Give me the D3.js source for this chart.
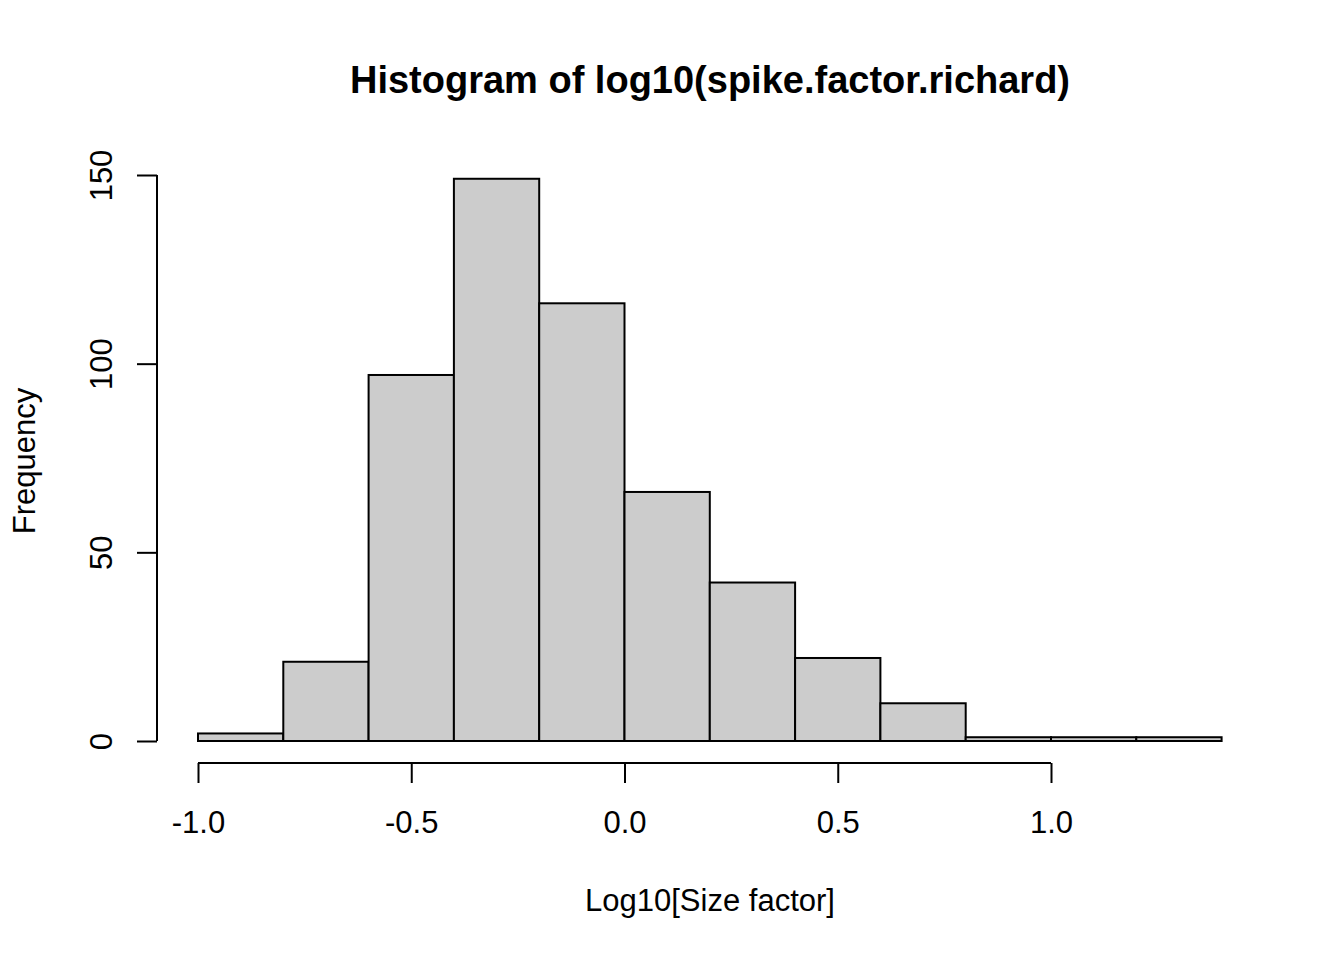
<!DOCTYPE html>
<html>
<head>
<meta charset="utf-8">
<script src="https://cdn.jsdelivr.net/npm/d3@7"></script>
<style>
  body { margin: 0; background: #fff; }
  text { font-family: "Liberation Sans", Arial, Helvetica, sans-serif; fill: #000; }
</style>
</head>
<body>
<div id="chart"></div>
<script>
// Histogram bins (breaks) and counts
var breaks = [-1.0, -0.8, -0.6, -0.4, -0.2, 0.0, 0.2, 0.4, 0.6, 0.8, 1.0, 1.2, 1.4];
var counts = [2, 21, 97, 149, 116, 66, 42, 22, 10, 1, 1, 1];
var xTicks = [-1.0, -0.5, 0.0, 0.5, 1.0];
var yTicks = [0, 50, 100, 150];

var width = 1344, height = 960;

var x = d3.scaleLinear().domain([-1.0, 1.0]).range([198, 1051]);
var y = d3.scaleLinear().domain([0, 150]).range([741, 175]);

var svg = d3.select("#chart").append("svg")
    .attr("width", width)
    .attr("height", height);

var bins = counts.map(function(c, i) {
    return { x0: breaks[i], x1: breaks[i + 1], count: c };
});

svg.selectAll("rect.bar")
    .data(bins)
    .enter().append("rect")
    .attr("class", "bar")
    .attr("x", d => x(d.x0))
    .attr("y", d => y(d.count))
    .attr("width", d => x(d.x1) - x(d.x0))
    .attr("height", d => y(0) - y(d.count))
    .style("fill", "#cccccc")
    .style("stroke", "#000")
    .style("stroke-width", 2);

// x axis (R style: line spans first to last tick, detached below plot)
var xAxis = d3.axisBottom(x)
    .tickValues(xTicks)
    .tickSize(20)
    .tickPadding(28)
    .tickFormat(d3.format(".1f"));

var gx = svg.append("g")
    .attr("transform", "translate(0,763)")
    .call(xAxis);
gx.select(".domain").attr("d", "M" + x(-1.0) + ",0H" + x(1.0));
gx.selectAll("path, line").style("stroke", "#000").style("stroke-width", 2);
gx.selectAll("text")
    .style("font-size", "31px")
    .text(d => d3.format(".1f")(d).replace("−", "-"));

// y axis
var yAxis = d3.axisLeft(y)
    .tickValues(yTicks)
    .tickSize(20);

var gy = svg.append("g")
    .attr("transform", "translate(157,0)")
    .call(yAxis);
gy.select(".domain").attr("d", "M0," + y(0) + "V" + y(150));
gy.selectAll("path, line").style("stroke", "#000").style("stroke-width", 2);
gy.selectAll("text")
    .attr("x", null)
    .attr("dy", null)
    .attr("transform", "translate(-45,0) rotate(-90)")
    .style("text-anchor", "middle")
    .style("font-size", "31px");

// Title and axis labels
svg.append("text")
    .attr("x", 710)
    .attr("y", 93)
    .style("text-anchor", "middle")
    .style("font-size", "38px")
    .style("font-weight", "bold")
    .text("Histogram of log10(spike.factor.richard)");

svg.append("text")
    .attr("x", 710)
    .attr("y", 911)
    .style("text-anchor", "middle")
    .style("font-size", "31px")
    .text("Log10[Size factor]");

svg.append("text")
    .attr("transform", "translate(35,461) rotate(-90)")
    .style("text-anchor", "middle")
    .style("font-size", "31px")
    .text("Frequency");
</script>
</body>
</html>
